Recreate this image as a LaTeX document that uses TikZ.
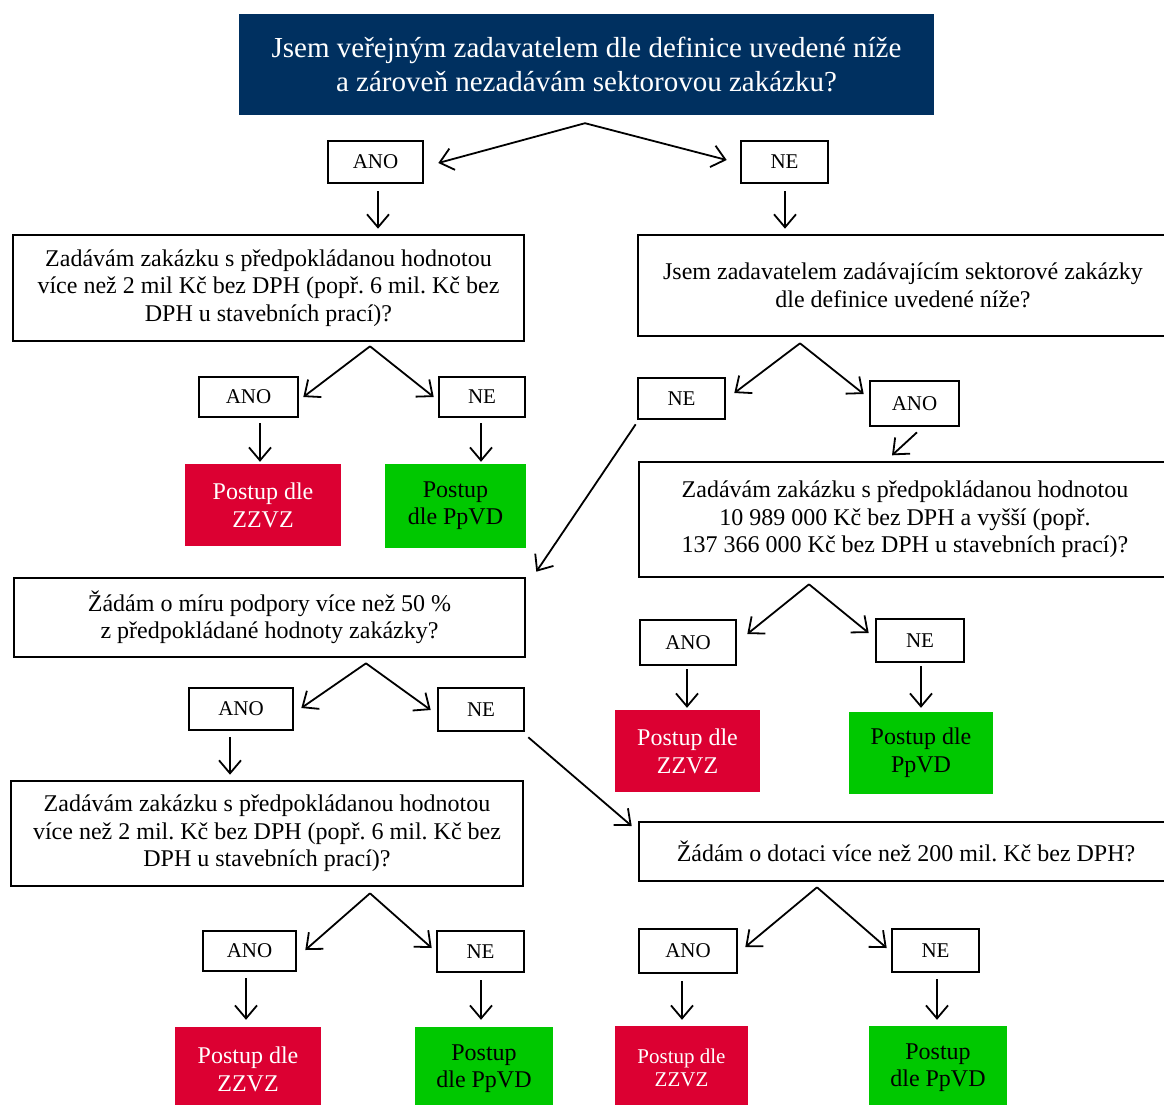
\documentclass[tikz,border=0pt]{standalone}
\usepackage{fontspec}
\setmainfont{Liberation Serif}
\usetikzlibrary{arrows.meta,calc}
\definecolor{navy}{RGB}{0,48,96}
\definecolor{zred}{RGB}{220,0,50}
\definecolor{zgreen}{RGB}{0,200,0}
\frenchspacing
\begin{document}
\begin{tikzpicture}[x=1pt,y=-1pt,
  sz/.style 2 args={minimum width=#1pt,minimum height=#2pt},
  box/.style={draw,line width=2.6pt,align=center,inner sep=0pt,font=\fontsize{24}{27.5}\selectfont},
  lbl/.style={draw,line width=2.6pt,inner sep=0pt,font=\fontsize{21}{24}\selectfont},
  redbox/.style={fill=zred,text=white,align=center,inner sep=0pt,font=\fontsize{24}{28}\selectfont},
  greenbox/.style={fill=zgreen,text=black,align=center,inner sep=0pt,font=\fontsize{24}{27}\selectfont},
  arr/.style={line width=1.8pt,-{Straight Barb[length=13pt,width=22pt]}}
]
\useasboundingbox (0,0) rectangle (1164,1104);
\clip (0,0) rectangle (1164,1104);

% title
\node[fill=navy,text=white,align=center,inner sep=0pt,font=\fontsize{29}{34}\selectfont,sz={695}{101}] (title) at (586.5,64.5)
  {Jsem veřejným zadavatelem dle definice uvedené níže\\a zároveň nezadávám sektorovou zakázku?};
\node[lbl,sz={95}{42}] (ano1) at (375.5,162) {ANO};
\node[lbl,sz={87}{42}] (ne1) at (784.5,162) {NE};

% left branch
\node[box,sz={511}{106}] (L1) at (268.5,288)
  {Zadávám zakázku s předpokládanou hodnotou\\více než 2 mil Kč bez DPH (popř. 6 mil. Kč bez\\DPH u stavebních prací)?};
\node[lbl,sz={99}{40}] (ano2) at (248.5,397) {ANO};
\node[lbl,sz={86}{40}] (ne2) at (482,397) {NE};
\node[redbox,sz={156}{82}] (red1) at (263,505) {Postup dle\\ZZVZ};
\node[greenbox,sz={141}{84}] (green1) at (455.5,506) {Postup\\dle PpVD};

% right branch
\node[box,sz={530}{101}] (R1) at (903,285.5)
  {Jsem zadavatelem zadávajícím sektorové zakázky\\dle definice uvedené níže?};
\node[lbl,sz={87}{41}] (ne3) at (681.5,398.5) {NE};
\node[lbl,sz={89}{45}] (ano3) at (914.5,403.5) {ANO};
\node[box,sz={532}{115}] (R2) at (905,519.5)
  {Zadávám zakázku s předpokládanou hodnotou\\10 989 000 Kč bez DPH a vyšší (popř.\\137 366 000 Kč bez DPH u stavebních prací)?};
\node[lbl,sz={96}{45}] (ano6) at (688,642.5) {ANO};
\node[lbl,sz={88}{43}] (ne6) at (920,640.5) {NE};
\node[redbox,sz={145}{82}] (red2) at (687.5,751) {Postup dle\\ZZVZ};
\node[greenbox,font=\fontsize{24}{28}\selectfont,sz={144}{82}] (green2) at (921,753) {Postup dle\\PpVD};

% middle left
\node[box,sz={511}{79}] (L2) at (269.5,617.5)
  {Žádám o míru podpory více než 50 \%\\z předpokládané hodnoty zakázky?};
\node[lbl,sz={104}{42}] (ano4) at (241,709) {ANO};
\node[lbl,sz={86}{43}] (ne4) at (481,709.5) {NE};
\node[box,sz={512}{105}] (L3) at (267,833.5)
  {Zadávám zakázku s předpokládanou hodnotou\\více než 2 mil. Kč bez DPH (popř. 6 mil. Kč bez\\DPH u stavebních prací)?};
\node[lbl,sz={93}{40}] (ano5) at (249.5,951) {ANO};
\node[lbl,sz={87}{41}] (ne5) at (480.5,951.5) {NE};
\node[redbox,sz={146}{84}] (red3) at (248,1069) {Postup dle\\ZZVZ};
\node[greenbox,sz={138}{84}] (green3) at (484,1069) {Postup\\dle PpVD};

% bottom right
\node[box,sz={534}{59}] (R3) at (906,851.5) {Žádám o dotaci více než 200 mil. Kč bez DPH?};
\node[lbl,sz={98}{44}] (ano7) at (688,951) {ANO};
\node[lbl,sz={87}{43}] (ne7) at (935.5,950.5) {NE};
\node[redbox,font=\fontsize{21}{23}\selectfont,sz={133}{84}] (red4) at (681.5,1068) {Postup dle\\ZZVZ};
\node[greenbox,sz={138}{84}] (green4) at (938,1068) {Postup\\dle PpVD};

% apex coordinates
\coordinate (t0) at ($(title.south)+(-1.5,8)$);
\coordinate (a1) at ($(L1.south)+(101.5,4)$);
\coordinate (b1) at ($(R1.south)+(-103,6)$);
\coordinate (b2) at ($(R2.south)+(-96,6)$);
\coordinate (a2) at ($(L2.south)+(96.5,5)$);
\coordinate (a3) at ($(L3.south)+(103,6)$);
\coordinate (b3) at ($(R3.south)+(-89,5)$);

% connectors
\draw[arr] (t0) -- ($(ano1.east)+(14,1)$);
\draw[arr] (t0) -- ($(ne1.west)+(-13,-2)$);
\draw[arr] ($(ano1.south)+(2.5,7)$) -- ($(ano1.south |- L1.north)+(2.5,-5)$);
\draw[arr] ($(ne1.south)+(0.5,7)$) -- ($(ne1.south |- R1.north)+(0.5,-5)$);

\draw[arr] (a1) -- ($(ano2.east)+(4,0)$);
\draw[arr] (a1) -- ($(ne2.west)+(-4,0)$);
\draw[arr] ($(ano2.south)+(11.5,5)$) -- ($(ano2.south |- red1.north)+(11.5,-2)$);
\draw[arr] ($(ne2.south)+(-1,5)$) -- ($(ne2.south |- green1.north)+(-1,-2)$);

\draw[arr] (b1) -- ($(ne3.east)+(8,-5.5)$);
\draw[arr] (b1) -- ($(ano3.west)+(-5,-9.5)$);
\draw[arr] ($(ano3.south)+(2.5,5)$) -- ($(ano3.south)+(-22.5,28)$);
\draw[arr] ($(ne3.south west)+(-1,4)$) -- ($(L2.north east)+(10,-5)$);

\draw[arr] (b2) -- ($(ano6.east)+(10,-8.5)$);
\draw[arr] (b2) -- ($(ne6.west)+(-6,-7.5)$);
\draw[arr] ($(ano6.south)+(-1,3)$) -- ($(ano6.south |- red2.north)+(-1,-2)$);
\draw[arr] ($(ne6.south)+(1,3)$) -- ($(ne6.south |- green2.north)+(1,-4)$);

\draw[arr] (a2) -- ($(ano4.east)+(7,-1)$);
\draw[arr] (a2) -- ($(ne4.west)+(-6,0.5)$);
\draw[arr] ($(ano4.south)+(-11,6)$) -- ($(ano4.south |- L3.north)+(-11,-5)$);
\draw[arr] ($(ne4.south east)+(3,5)$) -- ($(R3.west)+(-6,-25.5)$);

\draw[arr] (a3) -- ($(ano5.east)+(8,-1)$);
\draw[arr] (a3) -- ($(ne5.west)+(-4,-3.5)$);
\draw[arr] ($(ano5.south)+(-3.5,6)$) -- ($(ano5.south |- red3.north)+(-3.5,-7)$);
\draw[arr] ($(ne5.south)+(0.5,7)$) -- ($(ne5.south |- green3.north)+(0.5,-7)$);

\draw[arr] (b3) -- ($(ano7.east)+(7,-4)$);
\draw[arr] (b3) -- ($(ne7.west)+(-4,-2.5)$);
\draw[arr] ($(ano7.south)+(-6,7)$) -- ($(ano7.south |- red4.north)+(-6,-6)$);
\draw[arr] ($(ne7.south)+(1.5,6)$) -- ($(ne7.south |- green4.north)+(1.5,-6)$);
\end{tikzpicture}
\end{document}
